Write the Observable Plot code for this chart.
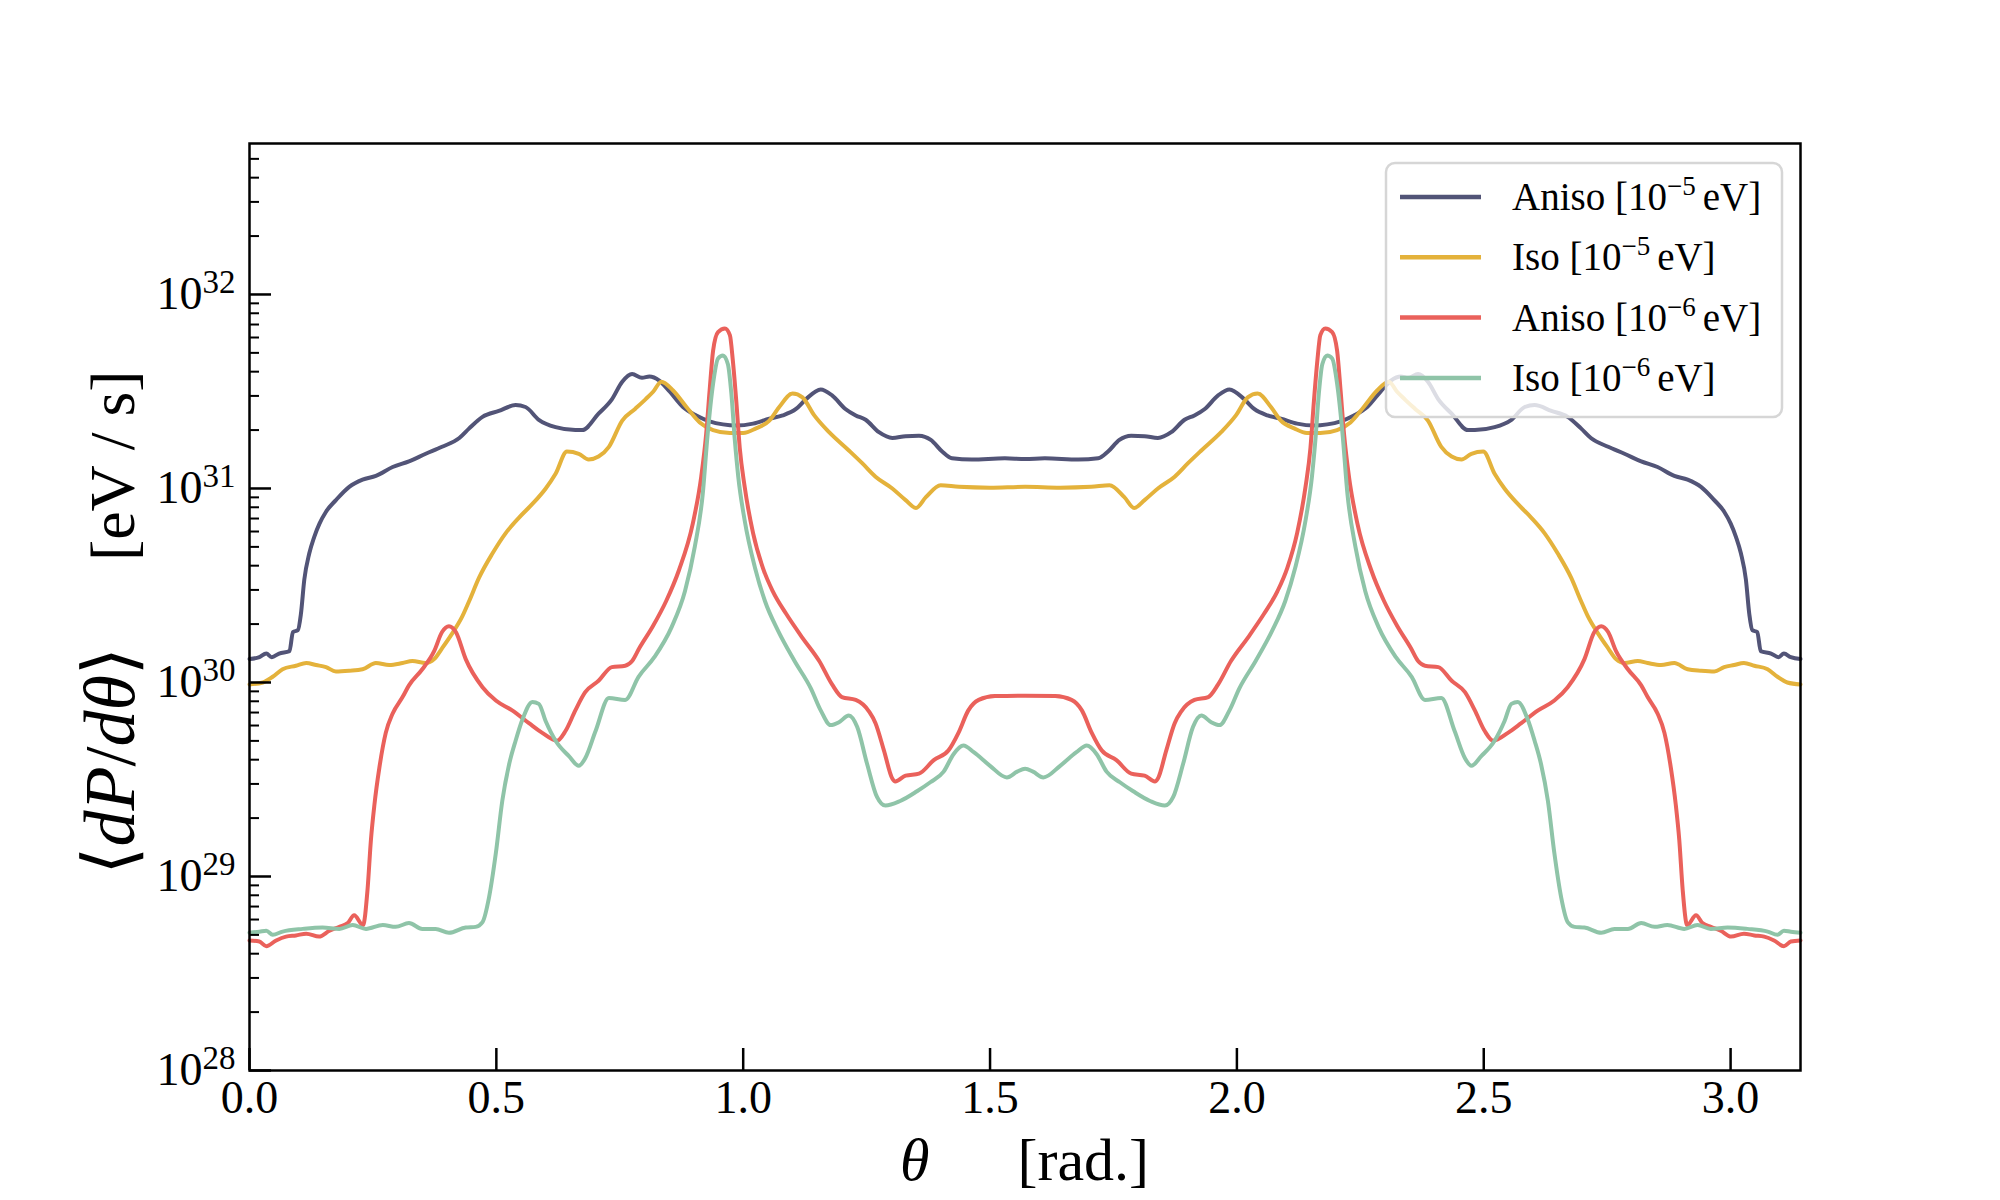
<!DOCTYPE html>
<html><head><meta charset="utf-8">
<script src="https://cdn.jsdelivr.net/npm/d3@7"></script>
<script src="https://cdn.jsdelivr.net/npm/@observablehq/plot@0.6"></script>
<style>body{margin:0;background:#fff}</style>
</head><body><div id="chart"></div>
<script>
// ---- data (theta in rad, <dP/dtheta> in eV/s) ----
const seriesNames = ["Aniso 1e-5", "Iso 1e-5", "Aniso 1e-6", "Iso 1e-6"];
const seriesColors = ["#525477", "#e4b23b", "#ea615b", "#8fc4a8"];
const legendBase = ["Aniso [10", "Iso [10", "Aniso [10", "Iso [10"];
const legendExp = ["−5", "−5", "−6", "−6"];
const legendTail = "eV]";
const xTicks = [0.0, 0.5, 1.0, 1.5, 2.0, 2.5, 3.0];
const yMajorTicks = [1e28, 1e29, 1e30, 1e31, 1e32];

const thetaAnisoA = [0.000,0.020,0.034,0.045,0.060,0.081,0.088,0.098,0.104,0.111,0.121,0.131,0.142,0.155,0.175,0.202,0.229,0.256,0.290,0.323,0.357,0.390,0.425,0.445,0.472,0.505,0.539,0.559,0.586,0.620,0.660,0.674,0.707,0.734,0.755,0.775,0.795,0.810,0.830,0.851,0.878,0.905,0.932,0.959,0.986,1.020,1.053,1.080,1.107,1.127,1.157,1.180,1.207,1.228,1.248,1.275,1.302,1.329,1.356,1.380,1.403,1.423,1.463,1.530,1.571,
  1.611,1.679,1.719,1.739,1.762,1.786,1.813,1.840,1.867,1.894,1.914,1.935,1.962,1.985,2.015,2.035,2.062,2.089,2.122,2.156,2.183,2.210,2.237,2.264,2.291,2.312,2.332,2.347,2.367,2.387,2.408,2.435,2.468,2.482,2.522,2.556,2.583,2.603,2.637,2.670,2.697,2.717,2.752,2.785,2.819,2.852,2.886,2.913,2.940,2.967,2.987,3.000,3.011,3.021,3.031,3.038,3.044,3.054,3.061,3.082,3.097,3.108,3.122,3.1416];
const valueAnisoA = [1.32e30,1.35e30,1.41e30,1.35e30,1.41e30,1.45e30,1.82e30,1.86e30,2.24e30,3.39e30,4.62e30,5.62e30,6.61e30,7.59e30,8.71e30,1.02e31,1.11e31,1.16e31,1.29e31,1.38e31,1.51e31,1.64e31,1.82e31,2.04e31,2.34e31,2.51e31,2.69e31,2.63e31,2.26e31,2.07e31,2.00e31,2.00e31,2.43e31,2.88e31,3.55e31,3.89e31,3.72e31,3.78e31,3.60e31,3.16e31,2.63e31,2.38e31,2.22e31,2.14e31,2.11e31,2.16e31,2.29e31,2.38e31,2.57e31,2.88e31,3.24e31,3.02e31,2.57e31,2.38e31,2.26e31,1.95e31,1.82e31,1.86e31,1.87e31,1.78e31,1.55e31,1.43e31,1.41e31,1.43e31,1.42e31,
  1.43e31,1.41e31,1.43e31,1.55e31,1.78e31,1.87e31,1.86e31,1.82e31,1.95e31,2.26e31,2.38e31,2.57e31,3.02e31,3.24e31,2.88e31,2.57e31,2.38e31,2.29e31,2.16e31,2.11e31,2.14e31,2.22e31,2.38e31,2.63e31,3.16e31,3.60e31,3.78e31,3.72e31,3.89e31,3.55e31,2.88e31,2.43e31,2.00e31,2.00e31,2.07e31,2.26e31,2.63e31,2.69e31,2.51e31,2.34e31,2.04e31,1.82e31,1.64e31,1.51e31,1.38e31,1.29e31,1.16e31,1.11e31,1.02e31,8.71e30,7.59e30,6.61e30,5.62e30,4.62e30,3.39e30,2.24e30,1.86e30,1.82e30,1.45e30,1.41e30,1.35e30,1.41e30,1.35e30,1.32e30];

const thetaIsoA = [0.000,0.027,0.047,0.067,0.094,0.115,0.135,0.155,0.175,0.202,0.229,0.256,0.283,0.310,0.330,0.357,0.374,0.390,0.410,0.431,0.445,0.465,0.492,0.519,0.546,0.573,0.600,0.620,0.643,0.667,0.687,0.707,0.728,0.755,0.781,0.802,0.818,0.834,0.858,0.885,0.912,0.939,0.973,1.000,1.026,1.053,1.073,1.100,1.120,1.144,1.174,1.214,1.241,1.268,1.302,1.329,1.350,1.370,1.400,1.437,1.500,1.571,
  1.642,1.705,1.742,1.772,1.792,1.813,1.840,1.874,1.901,1.928,1.968,1.998,2.022,2.042,2.069,2.089,2.116,2.142,2.169,2.203,2.230,2.257,2.284,2.308,2.324,2.340,2.361,2.387,2.414,2.435,2.455,2.475,2.499,2.522,2.542,2.569,2.596,2.623,2.650,2.677,2.697,2.711,2.732,2.752,2.768,2.785,2.812,2.832,2.859,2.886,2.913,2.940,2.967,2.987,3.007,3.027,3.048,3.075,3.095,3.115,3.1416];
const valueIsoA = [9.77e29,1.00e30,1.07e30,1.17e30,1.22e30,1.26e30,1.23e30,1.20e30,1.14e30,1.15e30,1.17e30,1.26e30,1.23e30,1.26e30,1.29e30,1.26e30,1.32e30,1.50e30,1.78e30,2.19e30,2.63e30,3.47e30,4.62e30,5.89e30,7.08e30,8.32e30,1.00e31,1.19e31,1.55e31,1.51e31,1.41e31,1.46e31,1.64e31,2.24e31,2.57e31,2.88e31,3.16e31,3.55e31,3.20e31,2.63e31,2.19e31,2.00e31,1.93e31,1.93e31,2.04e31,2.24e31,2.63e31,3.09e31,2.95e31,2.38e31,1.95e31,1.57e31,1.35e31,1.15e31,1.00e31,8.71e30,7.94e30,9.02e30,1.04e31,1.02e31,1.01e31,1.02e31,
  1.01e31,1.02e31,1.04e31,9.02e30,7.94e30,8.71e30,1.00e31,1.15e31,1.35e31,1.57e31,1.95e31,2.38e31,2.95e31,3.09e31,2.63e31,2.24e31,2.04e31,1.93e31,1.93e31,2.00e31,2.19e31,2.63e31,3.20e31,3.55e31,3.16e31,2.88e31,2.57e31,2.24e31,1.64e31,1.46e31,1.41e31,1.51e31,1.55e31,1.19e31,1.00e31,8.32e30,7.08e30,5.89e30,4.62e30,3.47e30,2.63e30,2.19e30,1.78e30,1.50e30,1.32e30,1.26e30,1.29e30,1.26e30,1.23e30,1.26e30,1.17e30,1.15e30,1.14e30,1.20e30,1.23e30,1.26e30,1.22e30,1.17e30,1.07e30,1.00e30,9.77e29];

const thetaAnisoB = [0.000,0.020,0.034,0.054,0.074,0.094,0.115,0.141,0.162,0.182,0.199,0.212,0.230,0.239,0.246,0.253,0.263,0.276,0.290,0.310,0.323,0.350,0.374,0.390,0.404,0.418,0.438,0.472,0.499,0.532,0.566,0.593,0.623,0.640,0.660,0.680,0.707,0.734,0.761,0.775,0.790,0.817,0.844,0.870,0.898,0.915,0.925,0.932,0.939,0.949,0.963,0.973,0.979,0.986,0.993,1.003,1.020,1.040,1.060,1.087,1.120,1.154,1.180,1.200,1.228,1.255,1.268,1.285,1.302,1.308,1.329,1.356,1.386,1.416,1.436,1.456,1.477,1.510,1.571,
  1.632,1.665,1.686,1.706,1.726,1.756,1.786,1.813,1.834,1.840,1.857,1.874,1.887,1.914,1.942,1.962,1.988,2.022,2.055,2.082,2.102,2.122,2.139,2.149,2.156,2.163,2.169,2.179,2.193,2.203,2.210,2.217,2.227,2.244,2.272,2.298,2.325,2.352,2.367,2.381,2.408,2.435,2.462,2.482,2.502,2.519,2.549,2.576,2.610,2.643,2.670,2.704,2.724,2.738,2.752,2.768,2.792,2.819,2.832,2.852,2.866,2.879,2.889,2.896,2.903,2.912,2.930,2.943,2.960,2.980,3.001,3.027,3.048,3.068,3.088,3.108,3.122,3.1416];
const valueAnisoB = [4.68e28,4.62e28,4.37e28,4.68e28,4.90e28,4.97e28,5.07e28,4.90e28,5.25e28,5.50e28,5.75e28,6.31e28,5.62e28,8.51e28,1.55e29,2.34e29,3.63e29,5.50e29,6.92e29,8.41e29,9.66e29,1.17e30,1.45e30,1.82e30,1.95e30,1.82e30,1.32e30,9.46e29,8.07e29,7.18e29,6.17e29,5.50e29,5.01e29,5.62e29,7.18e29,8.91e29,1.02e30,1.20e30,1.22e30,1.29e30,1.51e30,1.95e30,2.63e30,3.80e30,6.61e30,1.15e31,1.91e31,3.20e31,5.13e31,6.40e31,6.68e31,6.17e31,4.57e31,2.82e31,1.62e31,1.02e31,5.89e30,3.89e30,2.95e30,2.26e30,1.70e30,1.29e30,9.77e29,8.41e29,8.13e29,7.08e29,6.17e29,4.47e29,3.20e29,3.09e29,3.31e29,3.39e29,3.98e29,4.47e29,5.50e29,7.18e29,8.13e29,8.51e29,8.55e29,
  8.51e29,8.13e29,7.18e29,5.50e29,4.47e29,3.98e29,3.39e29,3.31e29,3.09e29,3.20e29,4.47e29,6.17e29,7.08e29,8.13e29,8.41e29,9.77e29,1.29e30,1.70e30,2.26e30,2.95e30,3.89e30,5.89e30,1.02e31,1.62e31,2.82e31,4.57e31,6.17e31,6.68e31,6.40e31,5.13e31,3.20e31,1.91e31,1.15e31,6.61e30,3.80e30,2.63e30,1.95e30,1.51e30,1.29e30,1.22e30,1.20e30,1.02e30,8.91e29,7.18e29,5.62e29,5.01e29,5.50e29,6.17e29,7.18e29,8.07e29,9.46e29,1.32e30,1.82e30,1.95e30,1.82e30,1.45e30,1.17e30,9.66e29,8.41e29,6.92e29,5.50e29,3.63e29,2.34e29,1.55e29,8.51e28,5.62e28,6.31e28,5.75e28,5.50e28,5.25e28,4.90e28,5.07e28,4.97e28,4.90e28,4.68e28,4.37e28,4.62e28,4.68e28];

const thetaIsoB = [0.000,0.020,0.034,0.047,0.067,0.108,0.148,0.182,0.209,0.236,0.270,0.296,0.323,0.350,0.377,0.404,0.438,0.458,0.472,0.485,0.499,0.512,0.526,0.539,0.553,0.573,0.586,0.600,0.620,0.647,0.667,0.680,0.701,0.728,0.761,0.788,0.820,0.855,0.882,0.902,0.918,0.928,0.939,0.949,0.959,0.969,0.976,0.983,0.990,1.003,1.024,1.044,1.070,1.104,1.137,1.157,1.177,1.194,1.214,1.231,1.251,1.271,1.288,1.318,1.352,1.379,1.406,1.426,1.446,1.467,1.500,1.534,1.555,1.571,
  1.587,1.608,1.642,1.675,1.696,1.716,1.736,1.763,1.790,1.824,1.854,1.871,1.891,1.911,1.928,1.948,1.965,1.985,2.005,2.038,2.072,2.098,2.118,2.139,2.152,2.159,2.166,2.173,2.183,2.193,2.203,2.214,2.224,2.240,2.260,2.287,2.322,2.354,2.381,2.414,2.441,2.462,2.475,2.495,2.522,2.542,2.556,2.569,2.589,2.603,2.616,2.630,2.643,2.657,2.670,2.684,2.704,2.738,2.765,2.792,2.819,2.846,2.872,2.906,2.933,2.960,2.994,3.034,3.075,3.095,3.108,3.122,3.1416];
const valueIsoB = [5.13e28,5.19e28,5.25e28,5.01e28,5.20e28,5.37e28,5.46e28,5.37e28,5.62e28,5.37e28,5.62e28,5.50e28,5.75e28,5.37e28,5.37e28,5.13e28,5.46e28,5.50e28,5.82e28,7.76e28,1.32e29,2.45e29,3.80e29,5.01e29,6.46e29,7.94e29,7.76e29,6.31e29,5.01e29,4.17e29,3.72e29,4.07e29,5.62e29,8.32e29,8.13e29,1.07e30,1.35e30,1.93e30,2.95e30,5.01e30,9.33e30,1.91e31,3.47e31,4.68e31,4.85e31,4.37e31,3.09e31,1.78e31,1.15e31,6.84e30,3.89e30,2.63e30,1.86e30,1.29e30,9.33e29,7.18e29,6.03e29,6.24e29,6.76e29,5.89e29,3.80e29,2.57e29,2.32e29,2.45e29,2.75e29,3.06e29,3.47e29,4.27e29,4.73e29,4.37e29,3.72e29,3.24e29,3.47e29,3.59e29,
  3.47e29,3.24e29,3.72e29,4.37e29,4.73e29,4.27e29,3.47e29,3.06e29,2.75e29,2.45e29,2.32e29,2.57e29,3.80e29,5.89e29,6.76e29,6.24e29,6.03e29,7.18e29,9.33e29,1.29e30,1.86e30,2.63e30,3.89e30,6.84e30,1.15e31,1.78e31,3.09e31,4.37e31,4.85e31,4.68e31,3.47e31,1.91e31,9.33e30,5.01e30,2.95e30,1.93e30,1.35e30,1.07e30,8.13e29,8.32e29,5.62e29,4.07e29,3.72e29,4.17e29,5.01e29,6.31e29,7.76e29,7.94e29,6.46e29,5.01e29,3.80e29,2.45e29,1.32e29,7.76e28,5.82e28,5.50e28,5.46e28,5.13e28,5.37e28,5.37e28,5.75e28,5.50e28,5.62e28,5.37e28,5.62e28,5.37e28,5.46e28,5.37e28,5.20e28,5.01e28,5.25e28,5.19e28,5.13e28];

// ---- build table ----
const seriesTheta = [thetaAnisoA, thetaIsoA, thetaAnisoB, thetaIsoB];
const seriesValue = [valueAnisoA, valueIsoA, valueAnisoB, valueIsoB];
const table = [];
seriesNames.forEach((name, i) => {
  const n = Math.min(seriesTheta[i].length, seriesValue[i].length);
  if (seriesTheta[i].length !== seriesValue[i].length) console.warn("length mismatch", name, seriesTheta[i].length, seriesValue[i].length);
  for (let k = 0; k < n; k++) table.push({series: name, theta: seriesTheta[i][k], value: seriesValue[i][k]});
});

const yDomain = [1e28, 6e32];
const yMinorTicks = [];
for (let e = 28; e <= 32; e++) for (let m = 2; m <= 9; m++) { const v = m * 10 ** e; if (v < yDomain[1]) yMinorTicks.push(v); }

const FONT = "'Liberation Serif', 'DejaVu Serif', serif";
const W = 2000, H = 1200, mL = 249, mR = 200, mT = 143, mB = 130;

const chart = Plot.plot({
  width: W, height: H,
  marginLeft: mL, marginRight: mR, marginTop: mT, marginBottom: mB,
  style: {fontFamily: FONT, fontSize: "46px", background: "white", color: "black", overflow: "visible"},
  x: {domain: [0, Math.PI]},
  y: {type: "log", domain: yDomain},
  color: {domain: seriesNames, range: seriesColors},
  marks: [
    Plot.line(table, {x: "theta", y: "value", stroke: "series", z: "series", strokeWidth: 4, curve: "monotone-x", strokeLinejoin: "round", strokeLinecap: "round"}),
    Plot.axisX({ticks: xTicks, tickSize: -22, tickFormat: () => "", label: null, strokeWidth: 2.5}),
    Plot.axisX({ticks: xTicks, tickSize: 0, tickPadding: 10, tickFormat: d => d.toFixed(1), label: null, fontSize: 46}),
    Plot.axisY({ticks: yMajorTicks, tickSize: -22, tickFormat: () => "", label: null, strokeWidth: 2.5}),
    Plot.axisY({ticks: yMinorTicks, tickSize: -10, tickFormat: () => "", label: null, strokeWidth: 2}),
    Plot.axisY({ticks: yMajorTicks, tickSize: 0, tickPadding: 14, tickFormat: d => "10^" + Math.round(Math.log10(d)), label: null, fontSize: 46}),
    Plot.frame({stroke: "black", strokeWidth: 2.5})
  ]
});
document.getElementById("chart").appendChild(chart);

const svg = d3.select(chart);
// superscript tick labels
svg.selectAll("text").each(function () {
  const t = this.textContent;
  if (t && t.startsWith("10^")) {
    const exp = t.slice(3);
    const sel = d3.select(this);
    sel.text(null);
    sel.append("tspan").text("10");
    sel.append("tspan").attr("dy", "-0.48em").attr("font-size", "33px").text(exp);
  }
});

// y label (rotated)
const yl = svg.append("text")
  .attr("transform", `translate(134,${(mT + H - mB) / 2 + 16}) rotate(-90)`)
  .attr("text-anchor", "middle")
  .attr("font-family", FONT).attr("fill", "black");
yl.append("tspan").attr("font-size", "72px").text("⟨");
yl.append("tspan").attr("font-size", "72px").attr("font-style", "italic").text("dP");
yl.append("tspan").attr("font-size", "72px").text("/");
yl.append("tspan").attr("font-size", "72px").attr("font-style", "italic").text("dθ");
yl.append("tspan").attr("font-size", "72px").text("⟩");
yl.append("tspan").attr("font-size", "64px").attr("dx", "86").text("[eV / s]");

// x label
const xl = svg.append("text")
  .attr("x", (mL + W - mR) / 2).attr("y", 1180)
  .attr("text-anchor", "middle")
  .attr("font-family", FONT).attr("font-size", "60px").attr("fill", "black");
xl.append("tspan").attr("font-style", "italic").text("θ");
xl.append("tspan").attr("dx", "88").text("[rad.]");

// legend
const lg = svg.append("g").attr("text-anchor", "start");
lg.append("rect").attr("x", 1386).attr("y", 163).attr("width", 396).attr("height", 254).attr("rx", 9)
  .attr("fill", "white").attr("fill-opacity", 0.8).attr("stroke", "#d6d6d6").attr("stroke-width", 2.5);
seriesNames.forEach((name, i) => {
  const y = 197 + i * 60.3;
  lg.append("line").attr("x1", 1400).attr("x2", 1481).attr("y1", y).attr("y2", y)
    .attr("stroke", seriesColors[i]).attr("stroke-width", 4.5);
  const t = lg.append("text").attr("x", 1512).attr("y", y + 13).attr("text-anchor", "start")
    .attr("font-family", FONT).attr("font-size", "39px").attr("fill", "black");
  t.append("tspan").text(legendBase[i]);
  t.append("tspan").attr("dy", "-15").attr("font-size", "27px").text(legendExp[i]);
  t.append("tspan").attr("dy", "15").attr("dx", "7").text(legendTail);
});
</script>
</body></html>
